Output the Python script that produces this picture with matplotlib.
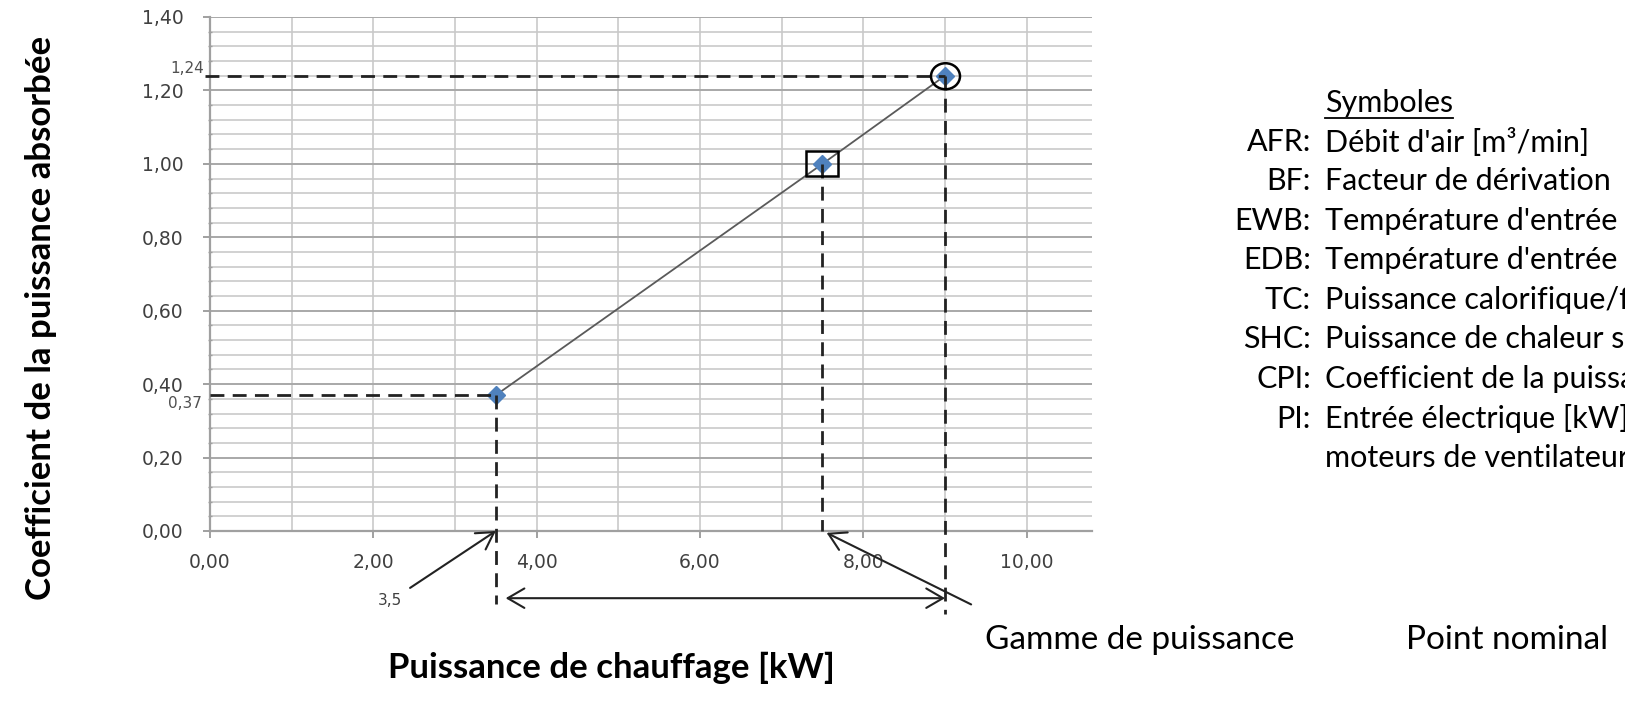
import matplotlib
matplotlib.use("Agg")
import matplotlib.pyplot as plt
import numpy as np
from matplotlib.patches import Rectangle, Ellipse
from matplotlib.transforms import ScaledTranslation
from matplotlib.ticker import MultipleLocator, FuncFormatter

# points de la courbe (puissance de chauffage kW, coefficient de puissance absorbée)
puissance = [3.5, 7.5, 9.0]
coeff = [0.37, 1.00, 1.24]
p_min, p_nom, p_max = 3.5, 7.5, 9.0
c_min, c_max = 0.37, 1.24

symboles = ["AFR", "BF", "EWB", "EDB", "TC", "SHC", "CPI", "PI", ""]
descriptions = [
    "Débit d'air [m³/min]",
    "Facteur de dérivation",
    "Température d'entrée d'air humide",
    "Température d'entrée d'air sec",
    "Puissance calorifique/frigorifique",
    "Puissance de chaleur sensible",
    "Coefficient de la puissance absorbée",
    "Entrée électrique [kW]",
    "moteurs de ventilateur",
]

W, H = 1625, 702
fig = plt.figure(figsize=(W / 100, H / 100), dpi=100)
fig.patch.set_facecolor("white")
ax = fig.add_axes([210 / W, 1 - 531 / H, 882 / W, 514 / H])

ax.set_xlim(0, 10.8)
ax.set_ylim(0, 1.4)
ax.xaxis.set_major_locator(MultipleLocator(2))
ax.xaxis.set_minor_locator(MultipleLocator(1))
ax.yaxis.set_major_locator(MultipleLocator(0.2))
ax.yaxis.set_minor_locator(MultipleLocator(0.04))
fmt = FuncFormatter(lambda v, p: f"{v:.2f}".replace(".", ","))
ax.xaxis.set_major_formatter(fmt)
ax.yaxis.set_major_formatter(fmt)

ax.grid(True, which="major", axis="y", color="#a8a8a8", lw=1.4)
ax.grid(True, which="minor", axis="y", color="#c9c9c9", lw=1.2)
ax.grid(True, which="both", axis="x", color="#c9c9c9", lw=1.2)
ax.set_axisbelow(True)
for s in ["top", "right"]:
    ax.spines[s].set_visible(False)
for s in ["left", "bottom"]:
    ax.spines[s].set_color("#a0a0a0")
    ax.spines[s].set_linewidth(1.6)

ax.tick_params(which="major", length=5, width=1.4, color="#a0a0a0",
               labelsize=13.5, labelcolor="#404040")
ax.tick_params(axis="y", which="major", pad=14)
ax.tick_params(axis="x", which="major", pad=11)
ax.tick_params(axis="y", which="minor", length=3, width=1.0, color="#a0a0a0", direction="inout")
ax.tick_params(axis="x", which="minor", length=0)
for lab in ax.get_xticklabels() + ax.get_yticklabels():
    lab.set_family("DejaVu Sans")

# courbe
ax.plot(puissance, coeff, color="#5a5a5a", lw=1.3, zorder=4)
ax.plot(puissance, coeff, ls="none", marker="D", ms=9, color="#4f81bd", zorder=5)

# lignes de rappel pointillées
dash = dict(color="#222222", lw=2.0, ls=(0, (5, 3)), clip_on=False, zorder=6)
ax.plot([-0.06, p_max], [c_max, c_max], **dash)
ax.plot([0.0, p_min], [c_min, c_min], **dash)
ax.plot([p_min, p_min], [c_min, -0.20], **dash)
ax.plot([p_nom, p_nom], [coeff[1], 0], **dash)
ax.plot([p_max, p_max], [c_max, -0.225], **dash)

# valeurs ajoutées sur l'axe y
ax.annotate("1,24", xy=(0, c_max), xytext=(-6, 7), textcoords="offset pixels",
            ha="right", va="center", fontsize=11, color="#505050")
ax.annotate("0,37", xy=(0, c_min), xytext=(-8, -8), textcoords="offset pixels",
            ha="right", va="center", fontsize=11, color="#505050")

# cadre autour du point nominal, cercle autour du point max
tr = fig.dpi_scale_trans + ScaledTranslation(p_nom, coeff[1], ax.transData)
ax.add_patch(Rectangle((-0.16, -0.125), 0.32, 0.25, transform=tr, fill=False,
                       ec="black", lw=1.8, zorder=7, clip_on=False))
tr2 = fig.dpi_scale_trans + ScaledTranslation(p_max, c_max, ax.transData)
ax.add_patch(Ellipse((0.005, -0.005), 0.29, 0.26, transform=tr2, fill=False,
                     ec="black", lw=1.8, zorder=7, clip_on=False))

# flèches
arr = dict(arrowstyle="->,head_length=0.6,head_width=0.35", color="#222222", lw=1.5,
           shrinkA=0, shrinkB=0, mutation_scale=20)
ax.annotate("", xy=(p_min, 0), xytext=(2.45, -0.155), arrowprops=arr, annotation_clip=False)
ax.annotate("", xy=(p_nom + 0.05, -0.005), xytext=(9.32, -0.20), arrowprops=arr,
            annotation_clip=False)
arr2 = dict(arr, arrowstyle="<->,head_length=0.6,head_width=0.35")
ax.annotate("", xy=(p_min + 0.12, -0.183), xytext=(p_max, -0.183), arrowprops=arr2,
            annotation_clip=False)
ax.text(2.2, -0.19, "3,5", ha="center", va="center", fontsize=11, color="#404040")

# titres d'axes
fig.text(41 / W, 1 - 318 / H, "Coefficient de la puissance absorbée", rotation=90,
         ha="center", va="center", fontsize=25, fontweight="bold", family="Lato")
fig.text(611 / W, 1 - 668 / H, "Puissance de chauffage [kW]",
         ha="center", va="center", fontsize=25, fontweight="bold", family="Lato")

fig.text(1140 / W, 1 - 640 / H, "Gamme de puissance", ha="center", va="center",
         fontsize=24, family="Lato")
fig.text(1507 / W, 1 - 640 / H, "Point nominal", ha="center", va="center",
         fontsize=24, family="Lato")

# liste des symboles
t = fig.text(1325 / W, 1 - 103 / H, "Symboles", ha="left", va="center", fontsize=22, family="Lato")
for i, (s, d) in enumerate(zip(symboles, descriptions)):
    y = 1 - (142 + i * 39.5) / H
    if s:
        fig.text(1311 / W, y, s + ":", ha="right", va="center", fontsize=22, family="Lato")
    fig.text(1325 / W, y, d, ha="left", va="center", fontsize=22, family="Lato")

fig.canvas.draw()
bb = t.get_window_extent()
fig.add_artist(plt.Line2D([bb.x0 / W, bb.x1 / W], [(bb.y0 - 1) / H, (bb.y0 - 1) / H],
                          color="black", lw=1.3))

fig.savefig("out.png", dpi=100)
